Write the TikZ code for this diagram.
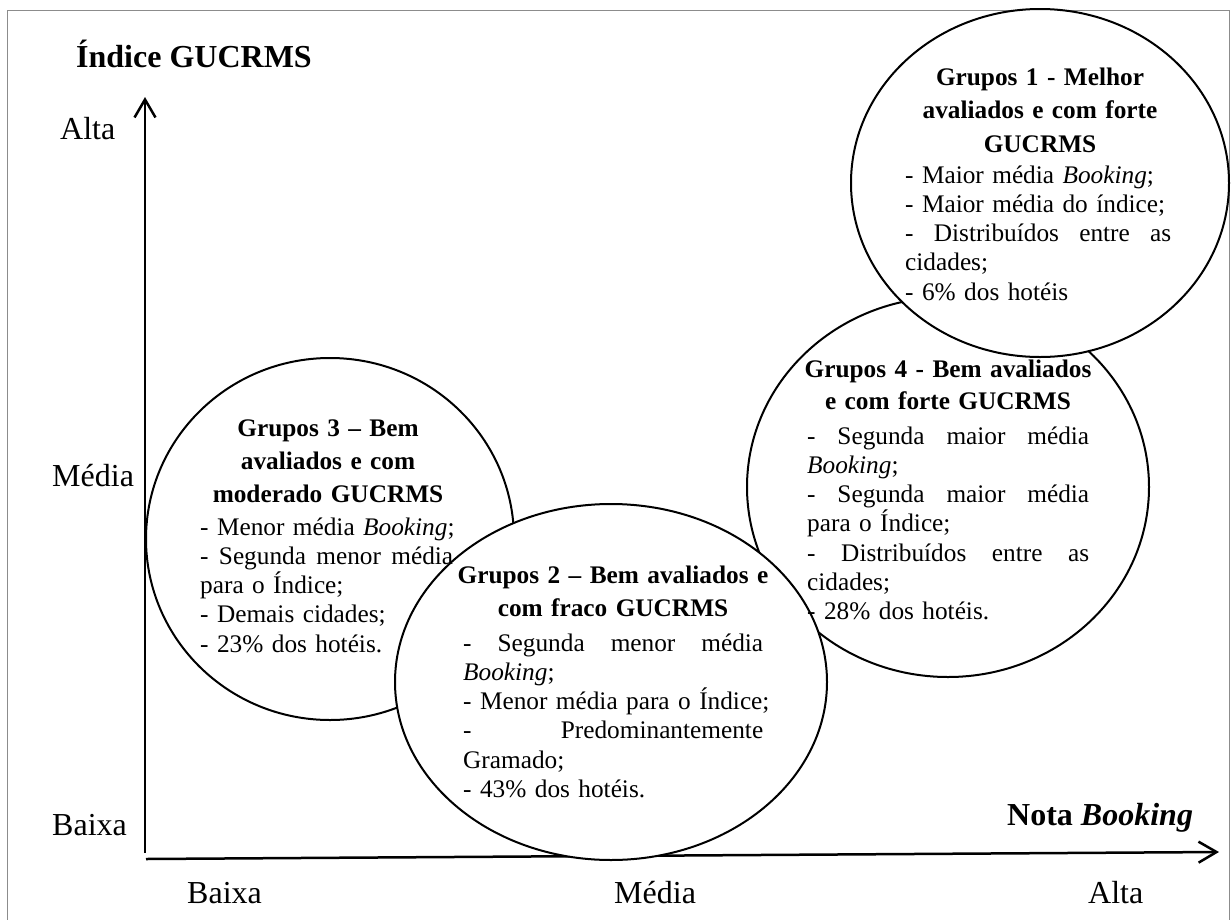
\documentclass[tikz,border=0pt]{standalone}
\usepackage{fontspec}
\setmainfont{Liberation Serif}
\usetikzlibrary{arrows.meta,shapes.geometric}
\definecolor{framegray}{RGB}{140,140,140}
\newcommand{\jl}[2]{\leavevmode\hbox to #1pt{\spaceskip=\fontdimen2\font plus 1fil\relax #2}}
\newcommand{\nl}[1]{\mbox{#1}}
\begin{document}
\begin{tikzpicture}[x=1pt,y=-1pt,
  grp/.style={ellipse, draw=black, line width=2pt, fill=white, inner sep=0pt},
  hd/.style={font=\fontsize{25.3}{33}\selectfont\bfseries, align=center, text width=330pt, inner sep=0pt, anchor=base},
  bd/.style={font=\fontsize{25.3}{29.3}\selectfont, align=left, inner sep=0pt, anchor=base west},
  axlab/.style={font=\fontsize{32}{38}\selectfont, inner sep=0pt, anchor=base west},
  axis/.style={line width=2.5pt, -{Straight Barb[length=18pt,width=21pt,line width=2.5pt]}}]
\useasboundingbox (0,0) rectangle (1232,919);
\draw[framegray, line width=1pt] (7,930) -- (7,10) -- (1229,10) -- (1229,930);

% axes
\coordinate (yo) at (145,853);
\coordinate (ytip) at (145,97);
\coordinate (xo) at (146,859);
\coordinate (xtip) at (1219,852);
\draw[axis] (yo) -- (ytip);
\draw[axis] (xo) -- (xtip);

% axis labels
\node[axlab, font=\fontsize{32}{38}\selectfont\bfseries] (ytitle) at (76,67) {Índice GUCRMS};
\node[axlab] (yhigh) at (60,139) {Alta};
\node[axlab] (ymid) at (52,486) {Média};
\node[axlab] (ylow) at (52,835) {Baixa};
\node[axlab] (xlow) at (187,903) {Baixa};
\node[axlab] (xmid) at (614,903) {Média};
\node[axlab] (xhigh) at (1088,903) {Alta};
\node[axlab, font=\fontsize{32}{38}\selectfont\bfseries] (xtitle) at (1007,825) {Nota \textit{Booking}};

% groups (ellipses)
\node[grp, minimum width=368pt, minimum height=362pt] (g3) at (330,539) {};
\node[grp, minimum width=402pt, minimum height=380pt] (g4) at (948,487) {};
\node[grp, minimum width=378pt, minimum height=348pt] (g1) at (1040,183) {};
\node[grp, minimum width=432pt, minimum height=356pt] (g2) at (611,682) {};

% group 3
\node[hd] (h3) at (328,436) {Grupos 3 -- Bem\\avaliados e com\\moderado GUCRMS};
\node[bd, text width=253pt] (b3) at (200,535) {\nl{- Menor média \textit{Booking};}\\
\jl{253}{- Segunda menor média}\\
\nl{para o Índice;}\\
\nl{- Demais cidades;}\\
\nl{- 23\% dos hotéis.}};

% group 2
\node[hd] (h2) at (613,583) {Grupos 2 -- Bem avaliados e\\com fraco GUCRMS};
\node[bd, text width=300pt] (b2) at (463,651) {\jl{300}{- Segunda menor média}\\
\nl{\textit{Booking};}\\
\nl{- Menor média para o Índice;}\\
\jl{300}{- Predominantemente}\\
\nl{Gramado;}\\
\nl{- 43\% dos hotéis.}};

% group 4
\node[hd, font=\fontsize{25.3}{32}\selectfont\bfseries] (h4) at (948,377) {Grupos 4 - Bem avaliados\\e com forte GUCRMS};
\node[bd, text width=282pt] (b4) at (807,444) {\jl{282}{- Segunda maior média}\\
\nl{\textit{Booking};}\\
\jl{282}{- Segunda maior média}\\
\nl{para o Índice;}\\
\jl{282}{- Distribuídos entre as}\\
\nl{cidades;}\\
\nl{- 28\% dos hotéis.}};

% group 1
\node[hd, font=\fontsize{25.3}{33.5}\selectfont\bfseries] (h1) at (1040,85) {Grupos 1 - Melhor\\avaliados e com forte\\GUCRMS};
\node[bd, text width=266pt] (b1) at (905,183) {\nl{- Maior média \textit{Booking};}\\
\nl{- Maior média do índice;}\\
\jl{266}{- Distribuídos entre as}\\
\nl{cidades;}\\
\nl{- 6\% dos hotéis}};
\end{tikzpicture}
\end{document}
